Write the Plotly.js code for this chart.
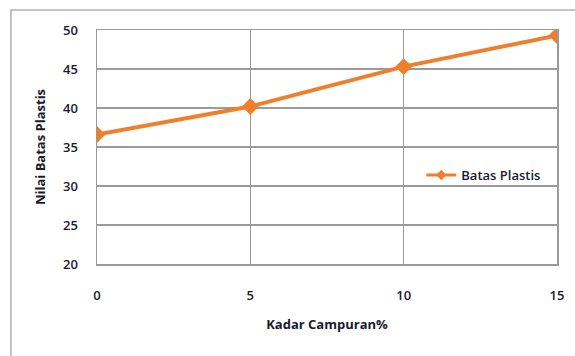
<!DOCTYPE html>
<html>
<head>
<meta charset="utf-8">
<script src="https://cdn.plot.ly/plotly-3.0.1.min.js"></script>
<style>
  html, body { margin: 0; padding: 0; background: #ffffff; }
  #chart { width: 575px; height: 356px; }
</style>
</head>
<body>
<div id="chart"></div>
<script>
// Kadar campuran (%) vs nilai batas plastis
const kadarCampuran = [0, 5, 10, 15];
const batasPlastis = [36.6, 40.2, 45.3, 49.3];
const seriesName = 'Batas Plastis';
const xTicks = [0, 5, 10, 15];
const yTicks = [20, 25, 30, 35, 40, 45, 50];

const orange = '#EF7F2C';
const gridGray = '#9a9a9a';
const textColor = '#1a1a2e';
const fontFam = '"Open Sans", Lato, sans-serif';

// main series (legend entry drawn separately with a smaller marker)
const trace = {
  x: kadarCampuran,
  y: batasPlastis,
  name: seriesName,
  type: 'scatter',
  mode: 'lines+markers',
  line: { color: orange, width: 4 },
  marker: { symbol: 'diamond', size: 13, color: orange },
  showlegend: false
};

const legendEntry = {
  x: [null],
  y: [null],
  name: seriesName,
  type: 'scatter',
  mode: 'lines+markers',
  line: { color: orange, width: 3 },
  marker: { symbol: 'diamond', size: 8, color: orange },
  showlegend: true,
  hoverinfo: 'skip'
};

const tickFont = { family: fontFam, size: 13, color: textColor, weight: 600 };
const titleFont = { family: fontFam, size: 13, color: textColor, weight: 700 };

const layout = {
  width: 575,
  height: 356,
  margin: { l: 97, r: 18, t: 30, b: 92 },
  paper_bgcolor: '#ffffff',
  plot_bgcolor: '#ffffff',
  font: { family: fontFam, size: 13, color: textColor },
  xaxis: {
    range: [0, 15],
    tickvals: xTicks,
    ticktext: xTicks.map(String),
    showgrid: true,
    gridcolor: gridGray,
    gridwidth: 1.5,
    zeroline: false,
    showline: true,
    linecolor: gridGray,
    linewidth: 1.5,
    mirror: true,
    ticks: '',
    ticklabelstandoff: 19,
    tickfont: tickFont,
    title: { text: 'Kadar Campuran%', font: titleFont, standoff: 17 }
  },
  yaxis: {
    range: [20, 50],
    tickvals: yTicks,
    ticktext: yTicks.map(String),
    showgrid: true,
    gridcolor: gridGray,
    gridwidth: 1.5,
    zeroline: false,
    showline: true,
    linecolor: gridGray,
    linewidth: 1.5,
    mirror: true,
    ticks: '',
    ticklabelstandoff: 15,
    tickfont: tickFont,
    title: { text: 'Nilai Batas Plastis', font: titleFont, standoff: 14 }
  },
  legend: {
    x: 0.705,
    y: 0.38,
    xanchor: 'left',
    yanchor: 'middle',
    bgcolor: 'rgba(255,255,255,0)',
    font: { family: fontFam, size: 13, color: textColor, weight: 600 },
    itemwidth: 30
  },
  shapes: [
    {
      type: 'rect',
      xref: 'paper', yref: 'paper',
      x0: -0.187, x1: 1.05,
      y0: -0.45, y1: 1.0855,
      line: { color: '#b0b0b0', width: 1.5 },
      fillcolor: 'rgba(0,0,0,0)',
      layer: 'below'
    }
  ]
};

Plotly.newPlot('chart', [trace, legendEntry], layout, { displayModeBar: false, staticPlot: true });
</script>
</body>
</html>
